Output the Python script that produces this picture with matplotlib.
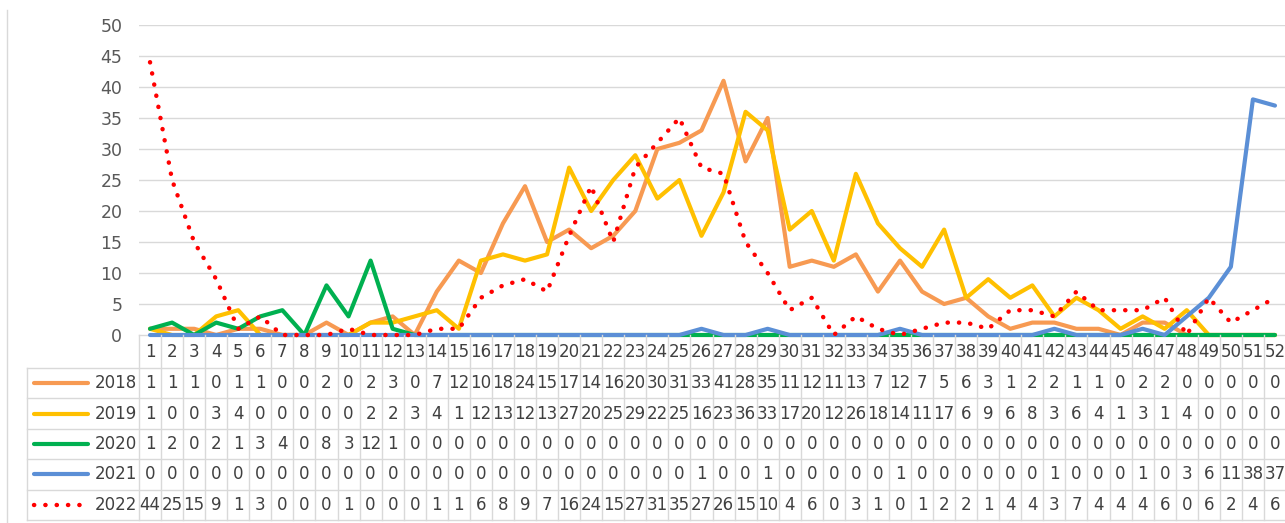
import matplotlib
matplotlib.use("Agg")
import matplotlib.pyplot as plt
from matplotlib.lines import Line2D

weeks = list(range(1, 53))
series_names = ["2018", "2019", "2020", "2021", "2022"]
s2018 = [1, 1, 1, 0, 1, 1, 0, 0, 2, 0, 2, 3, 0, 7, 12, 10, 18, 24, 15, 17, 14, 16, 20, 30, 31, 33,
         41, 28, 35, 11, 12, 11, 13, 7, 12, 7, 5, 6, 3, 1, 2, 2, 1, 1, 0, 2, 2, 0, 0, 0, 0, 0]
s2019 = [1, 0, 0, 3, 4, 0, 0, 0, 0, 0, 2, 2, 3, 4, 1, 12, 13, 12, 13, 27, 20, 25, 29, 22, 25, 16,
         23, 36, 33, 17, 20, 12, 26, 18, 14, 11, 17, 6, 9, 6, 8, 3, 6, 4, 1, 3, 1, 4, 0, 0, 0, 0]
s2020 = [1, 2, 0, 2, 1, 3, 4, 0, 8, 3, 12, 1] + [0] * 40
s2021 = [0, 0, 0, 0, 0, 0, 0, 0, 0, 0, 0, 0, 0, 0, 0, 0, 0, 0, 0, 0, 0, 0, 0, 0, 0, 1,
         0, 0, 1, 0, 0, 0, 0, 0, 1, 0, 0, 0, 0, 0, 0, 1, 0, 0, 0, 1, 0, 3, 6, 11, 38, 37]
s2022 = [44, 25, 15, 9, 1, 3, 0, 0, 0, 1, 0, 0, 0, 1, 1, 6, 8, 9, 7, 16, 24, 15, 27, 31, 35, 27,
         26, 15, 10, 4, 6, 0, 3, 1, 0, 1, 2, 2, 1, 4, 4, 3, 7, 4, 4, 4, 6, 0, 6, 2, 4, 6]
yticks = [0, 5, 10, 15, 20, 25, 30, 35, 40, 45, 50]

data = [s2018, s2019, s2020, s2021, s2022]
colors = ["#F79A52", "#FFC000", "#00B050", "#5B8FD6", "#FF0000"]
dot_style = (0, (0.05, 2.5))

W, H = 1285, 523
fig = plt.figure(figsize=(W / 100, H / 100), dpi=100)
fig.patch.set_facecolor("white")

ax_left, ax_right = 139, 1286
ax_top, ax_bot = 25, 335
ax = fig.add_axes([ax_left / W, 1 - ax_bot / H, (ax_right - ax_left) / W, (ax_bot - ax_top) / H])
ax.set_xlim(0.5, 52.5)
ax.set_ylim(0, 50)
ax.set_facecolor("none")
for sp in ["top", "right", "left"]:
    ax.spines[sp].set_visible(False)
ax.spines["bottom"].set_color("#D9D9D9")
ax.spines["bottom"].set_linewidth(1)
ax.set_yticks(yticks)
ax.set_yticklabels([str(v) for v in yticks], fontsize=12.5, color="#595959")
ax.tick_params(axis="y", length=0, pad=12)
ax.set_xticks([])
for v in yticks[1:]:
    ax.axhline(v, color="#D9D9D9", lw=1, zorder=0)

for i, (name, vals, c) in enumerate(zip(series_names, data, colors)):
    if name == "2022":
        ax.plot(weeks, vals, color=c, lw=3.2, linestyle=dot_style,
                dash_capstyle="round", zorder=3 + i, clip_on=False)
    else:
        ax.plot(weeks, vals, color=c, lw=3.0, solid_joinstyle="round",
                solid_capstyle="round", zorder=3 + i, clip_on=False)

# ---- data table ----
def px2fy(y):
    return 1 - y / H

trans = matplotlib.transforms.blended_transform_factory(ax.transData, fig.transFigure)
grid_c = "#D9D9D9"
row_lines = [368, 398, 429, 459, 490, 520]
table_left = 27
tcolor = "#404040"

for y in row_lines:
    fig.add_artist(Line2D([table_left / W, 1], [px2fy(y), px2fy(y)], color=grid_c, lw=1))
fig.add_artist(Line2D([table_left / W, table_left / W], [px2fy(368), px2fy(520)], color=grid_c, lw=1))
for k in range(0, 53):
    xb = 0.5 + k
    fig.add_artist(Line2D([xb, xb], [px2fy(335), px2fy(520)], color=grid_c, lw=1, transform=trans))

for w in weeks:
    fig.text(w, px2fy(352), str(w), transform=trans, ha="center", va="center",
             fontsize=12, color=tcolor)

row_centers = [383, 414, 444, 474, 505]
for name, vals, c, yc in zip(series_names, data, colors, row_centers):
    fy = px2fy(yc)
    if name == "2022":
        fig.add_artist(Line2D([34 / W, 88 / W], [fy, fy], color=c, lw=3.2,
                              linestyle=dot_style, dash_capstyle="round"))
    else:
        fig.add_artist(Line2D([34 / W, 88 / W], [fy, fy], color=c, lw=3.0,
                              solid_capstyle="round"))
    fig.text(137 / W, fy, name, ha="right", va="center", fontsize=12, color=tcolor)
    for w, v in zip(weeks, vals):
        fig.text(w, fy, str(v), transform=trans, ha="center", va="center",
                 fontsize=12, color=tcolor)

fig.add_artist(Line2D([7 / W, 7 / W], [px2fy(10), 0], color="#D9D9D9", lw=1))

fig.savefig("out.png", dpi=100, facecolor="white")
